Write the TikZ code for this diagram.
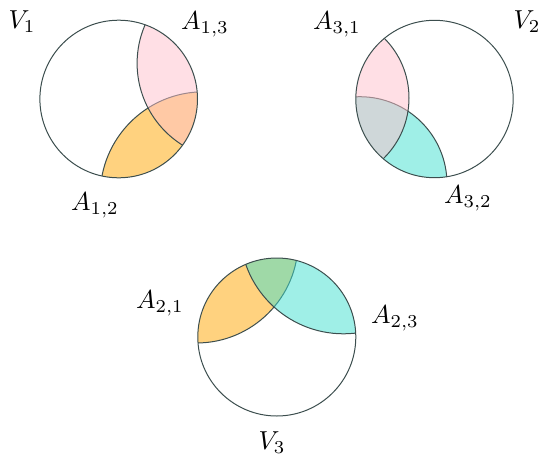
\documentclass[tikz,border=0pt]{standalone}
\begin{document}
\begin{tikzpicture}[x=1pt,y=-1pt,
  edge/.style={draw=linec, line width=1pt},
  lab/.style={scale=2.6, inner sep=0pt},
  yfill/.style={fill=cyellow, fill opacity=0.5},
  pfill/.style={fill=cpink, fill opacity=0.5},
  tfill/.style={fill=cteal, fill opacity=0.5}]
\definecolor{linec}{RGB}{60,78,78}
\definecolor{cyellow}{RGB}{255,165,0}
\definecolor{cpink}{RGB}{255,192,203}
\definecolor{cteal}{RGB}{64,224,208}
\useasboundingbox (0,0) rectangle (541,458);
% centres
\coordinate (c1) at (118.7,99);
\coordinate (p1) at (233.6,63.3);
\coordinate (q1) at (203.6,195.2);
\coordinate (c2) at (434.5,99);
\coordinate (p2) at (324.5,98);
\coordinate (t2) at (359.8,183.9);
\coordinate (c3) at (276.8,337);
\coordinate (y3) at (196.3,241.1);
\coordinate (x3) at (343.5,230.3);
% V1
\begin{scope}
  \clip (c1) circle[radius=78.8];
  \fill[yfill] (q1) circle[radius=103.4];
  \draw[edge] (q1) circle[radius=103.4];
  \fill[pfill] (p1) circle[radius=96.5];
  \draw[edge] (p1) circle[radius=96.5];
\end{scope}
\draw[edge] (c1) circle[radius=78.8];
% V2
\begin{scope}
  \clip (c2) circle[radius=78.7];
  \fill[tfill] (t2) circle[radius=87.2];
  \draw[edge] (t2) circle[radius=87.2];
  \fill[pfill] (p2) circle[radius=84.5];
  \draw[edge] (p2) circle[radius=84.5];
\end{scope}
\draw[edge] (c2) circle[radius=78.7];
% V3
\begin{scope}
  \clip (c3) circle[radius=79];
  \fill[yfill] (y3) circle[radius=101.9];
  \draw[edge] (y3) circle[radius=101.9];
  \fill[tfill] (x3) circle[radius=103.5];
  \draw[edge] (x3) circle[radius=103.5];
\end{scope}
\draw[edge] (c3) circle[radius=79];
% labels
\node[lab] (lV1) at (22,22) {$V_1$};
\node[lab] (lA13) at (205,24) {$A_{1,3}$};
\node[lab] (lA31) at (337,24) {$A_{3,1}$};
\node[lab] (lV2) at (527,22) {$V_2$};
\node[lab] (lA12) at (95,205) {$A_{1,2}$};
\node[lab] (lA32) at (468,198) {$A_{3,2}$};
\node[lab] (lA21) at (160,303) {$A_{2,1}$};
\node[lab] (lA23) at (395,318) {$A_{2,3}$};
\node[lab] (lV3) at (272,443) {$V_3$};
\end{tikzpicture}
\end{document}
